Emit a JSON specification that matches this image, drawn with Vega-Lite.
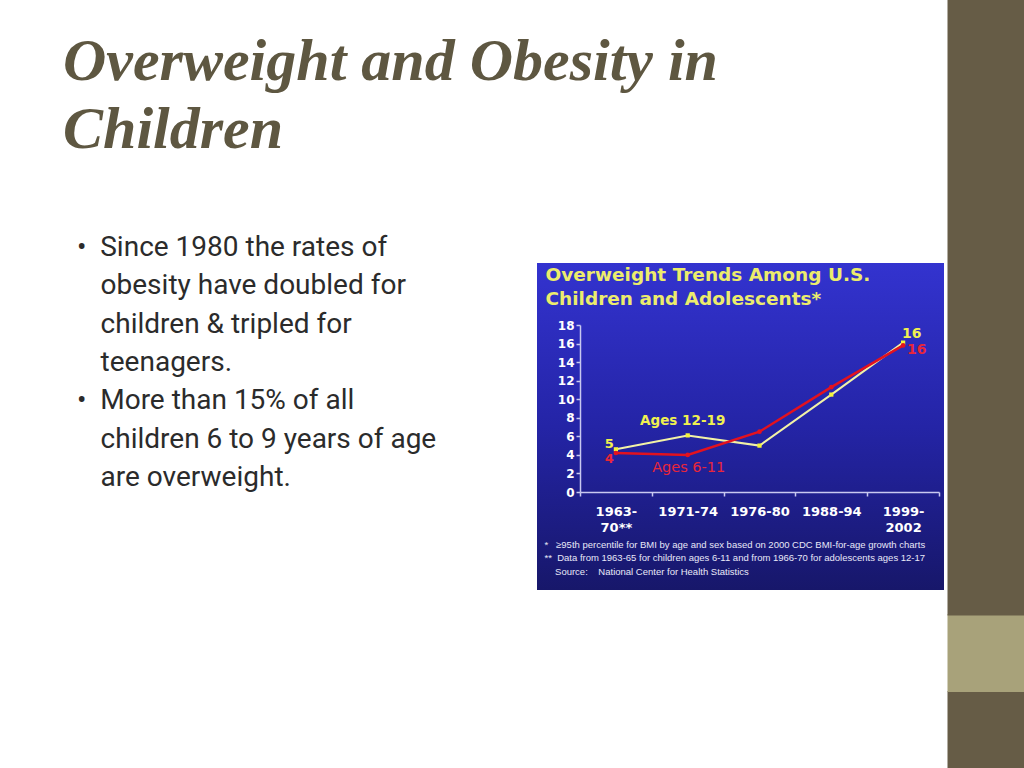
{
  "$schema": "https://vega.github.io/schema/vega-lite/v6.json",
  "width": 407,
  "height": 327,
  "autosize": {"type": "none"},
  "padding": {"left": 537, "top": 263, "right": 80, "bottom": 178},
  "background": "#ffffff",
  "view": {
    "stroke": null,
    "fill": {
      "gradient": "linear", "x1": 0, "y1": 0, "x2": 0, "y2": 1,
      "stops": [
        {"offset": 0, "color": "#3333cf"},
        {"offset": 0.5, "color": "#2424a6"},
        {"offset": 1, "color": "#17176a"}
      ]
    }
  },
  "title": {
    "text": ["Overweight and Obesity in", "Children"],
    "subtitle": [
      "\u200b\u00a0\u00a0•\u00a0\u00a0Since 1980 the rates of",
      "\u200b\u00a0\u00a0\u00a0\u00a0\u00a0\u200aobesity have doubled for",
      "\u200b\u00a0\u00a0\u00a0\u00a0\u00a0\u200achildren & tripled for",
      "\u200b\u00a0\u00a0\u00a0\u00a0\u00a0\u200ateenagers.",
      "\u200b\u00a0\u00a0•\u00a0\u00a0More than 15% of all",
      "\u200b\u00a0\u00a0\u00a0\u00a0\u00a0\u200achildren 6 to 9 years of age",
      "\u200b\u00a0\u00a0\u00a0\u00a0\u00a0\u200aare overweight."
    ],
    "anchor": "start",
    "frame": "group",
    "orient": "top",
    "dx": -474,
    "dy": 494,
    "offset": 0,
    "font": "Liberation Serif",
    "fontSize": 60,
    "fontStyle": "italic",
    "fontWeight": "bold",
    "color": "#5e5741",
    "lineHeight": 68,
    "subtitleFont": "Roboto",
    "subtitleFontSize": 28,
    "subtitleColor": "#2b2b2b",
    "subtitleLineHeight": 38.3,
    "subtitlePadding": 73
  },
  "data": {
    "values": [
      {"period": "1963-70", "group": "Ages 12-19", "pct": 4.6},
      {"period": "1971-74", "group": "Ages 12-19", "pct": 6.1},
      {"period": "1976-80", "group": "Ages 12-19", "pct": 5.0},
      {"period": "1988-94", "group": "Ages 12-19", "pct": 10.5},
      {"period": "1999-2002", "group": "Ages 12-19", "pct": 16.1},
      {"period": "1963-70", "group": "Ages 6-11", "pct": 4.2},
      {"period": "1971-74", "group": "Ages 6-11", "pct": 4.0},
      {"period": "1976-80", "group": "Ages 6-11", "pct": 6.5},
      {"period": "1988-94", "group": "Ages 6-11", "pct": 11.3},
      {"period": "1999-2002", "group": "Ages 6-11", "pct": 15.8}
    ]
  },
  "resolve": {
    "axis": {"x": "independent", "y": "independent"},
    "scale": {"y": "independent"}
  },
  "layer": [
    {
      "transform": [{"filter": "datum.group === 'Ages 12-19'"}],
      "mark": {"type": "line", "color": "#f2f2a6", "strokeWidth": 2,
        "point": {"filled": true, "shape": "square", "size": 18, "color": "#f4f43c"}},
      "encoding": {
        "x": {
          "field": "period", "type": "ordinal",
          "sort": ["1963-70", "1971-74", "1976-80", "1988-94", "1999-2002"],
          "scale": {"type": "band", "range": [43, 402], "paddingInner": 0, "paddingOuter": 0},
          "axis": {
            "orient": "bottom", "offset": -98, "tickBand": "extent",
            "domainColor": "#c8c8f0", "domainWidth": 1.5,
            "tickColor": "#c8c8f0", "tickWidth": 1.5, "tickSize": 4,
            "labelAngle": 0, "labelColor": "#ffffff", "labelFont": "DejaVu Sans",
            "labelFontWeight": "bold", "labelFontSize": 13, "labelPadding": 9,
            "labelLineHeight": 16, "labelOverlap": false, "labelBound": false,
            "labelBaseline": "top",
            "labelExpr": "datum.value === '1963-70' ? ['1963-', '70**'] : datum.value === '1999-2002' ? ['1999-', '2002'] : datum.label",
            "grid": false,
            "title": [
              "*\u00a0\u00a0\u00a0≥95th percentile for BMI by age and sex based on 2000 CDC BMI-for-age growth charts",
              "**\u00a0\u00a0Data from 1963-65 for children ages 6-11 and from 1966-70 for adolescents ages 12-17",
              "\u200b\u00a0\u00a0\u00a0\u00a0Source:\u00a0\u00a0\u00a0\u00a0National Center for Health Statistics"
            ],
            "titleX": 7, "titleY": 55, "titleAlign": "left", "titleBaseline": "alphabetic",
            "titleFont": "Liberation Sans", "titleFontSize": 9.5, "titleFontWeight": "normal",
            "titleColor": "#e8e8f8", "titleLineHeight": 13.7
          }
        },
        "y": {
          "field": "pct", "type": "quantitative",
          "scale": {"domain": [0, 18], "range": [229, 62], "nice": false, "zero": false},
          "axis": {
            "orient": "left", "offset": -43,
            "values": [0, 2, 4, 6, 8, 10, 12, 14, 16, 18],
            "domainColor": "#c8c8f0", "domainWidth": 1.5,
            "tickColor": "#c8c8f0", "tickWidth": 1.5, "tickSize": 4,
            "labelColor": "#ffffff", "labelFont": "DejaVu Sans", "labelFontWeight": "bold",
            "labelFontSize": 12, "labelPadding": 2, "grid": false,
            "title": ["Overweight Trends Among U.S.", "Children and Adolescents*"],
            "titleAngle": 0, "titleAlign": "left", "titleBaseline": "alphabetic",
            "titleX": -35, "titleY": 17,
            "titleFont": "DejaVu Sans", "titleFontSize": 18.5, "titleFontWeight": "bold",
            "titleColor": "#ecec6c", "titleLineHeight": 24
          }
        }
      }
    },
    {
      "transform": [{"filter": "datum.group === 'Ages 6-11'"}],
      "mark": {"type": "line", "color": "#e3121f", "strokeWidth": 2.5,
        "point": {"filled": true, "shape": "circle", "size": 22, "color": "#e3121f"}},
      "encoding": {
        "x": {"field": "period", "type": "ordinal",
          "sort": ["1963-70", "1971-74", "1976-80", "1988-94", "1999-2002"], "axis": null},
        "y": {
          "field": "pct", "type": "quantitative",
          "scale": {"domain": [-29.749, 53.029], "range": [505, -263], "nice": false, "zero": false},
          "axis": {
            "orient": "right", "offset": 3,
            "values": [19.94, -17.299, -25.599],
            "domain": false, "labels": false, "grid": false, "title": null,
            "ticks": true, "tickSize": 77, "tickCap": "butt", "tickRound": false,
            "tickColor": {"condition": {"test": "datum.value > -20 && datum.value < 0", "value": "#a8a27a"}, "value": "#665c46"},
            "tickWidth": {"condition": {"test": "datum.value > 0", "value": 616}, "value": 78}
          }
        }
      }
    },
    {
      "transform": [{"filter": "datum.group === 'Ages 12-19' && datum.period === '1971-74'"}],
      "mark": {"type": "text", "color": "#f0f050", "font": "DejaVu Sans", "fontWeight": "bold",
        "fontSize": 13.5, "baseline": "middle", "align": "center", "dx": -5, "dy": -14},
      "encoding": {
        "x": {"field": "period", "type": "ordinal", "axis": null},
        "y": {"field": "pct", "type": "quantitative", "axis": null,
          "scale": {"domain": [0, 18], "range": [229, 62], "nice": false, "zero": false}},
        "text": {"field": "group"}
      }
    },
    {
      "transform": [{"filter": "datum.group === 'Ages 6-11' && datum.period === '1971-74'"}],
      "mark": {"type": "text", "color": "#e8263a", "font": "DejaVu Sans", "fontWeight": "normal",
        "fontSize": 14.5, "baseline": "middle", "align": "center", "dx": 1, "dy": 13},
      "encoding": {
        "x": {"field": "period", "type": "ordinal", "axis": null},
        "y": {"field": "pct", "type": "quantitative", "axis": null,
          "scale": {"domain": [0, 18], "range": [229, 62], "nice": false, "zero": false}},
        "text": {"field": "group"}
      }
    },
    {
      "transform": [{"filter": "datum.group === 'Ages 12-19' && datum.period === '1963-70'"}],
      "mark": {"type": "text", "color": "#f0f050", "font": "DejaVu Sans", "fontWeight": "bold",
        "fontSize": 13, "baseline": "middle", "align": "right", "dx": -2, "dy": -5},
      "encoding": {
        "x": {"field": "period", "type": "ordinal", "axis": null},
        "y": {"field": "pct", "type": "quantitative", "axis": null,
          "scale": {"domain": [0, 18], "range": [229, 62], "nice": false, "zero": false}},
        "text": {"field": "pct", "type": "quantitative", "format": ".0f"}
      }
    },
    {
      "transform": [{"filter": "datum.group === 'Ages 6-11' && datum.period === '1963-70'"}],
      "mark": {"type": "text", "color": "#e8263a", "font": "DejaVu Sans", "fontWeight": "bold",
        "fontSize": 13, "baseline": "middle", "align": "right", "dx": -2, "dy": 6},
      "encoding": {
        "x": {"field": "period", "type": "ordinal", "axis": null},
        "y": {"field": "pct", "type": "quantitative", "axis": null,
          "scale": {"domain": [0, 18], "range": [229, 62], "nice": false, "zero": false}},
        "text": {"field": "pct", "type": "quantitative", "format": ".0f"}
      }
    },
    {
      "transform": [{"filter": "datum.group === 'Ages 12-19' && datum.period === '1999-2002'"}],
      "mark": {"type": "text", "color": "#f0f050", "font": "DejaVu Sans", "fontWeight": "bold",
        "fontSize": 14, "baseline": "middle", "align": "left", "dx": -1, "dy": -9},
      "encoding": {
        "x": {"field": "period", "type": "ordinal", "axis": null},
        "y": {"field": "pct", "type": "quantitative", "axis": null,
          "scale": {"domain": [0, 18], "range": [229, 62], "nice": false, "zero": false}},
        "text": {"field": "pct", "type": "quantitative", "format": ".0f"}
      }
    },
    {
      "transform": [{"filter": "datum.group === 'Ages 6-11' && datum.period === '1999-2002'"}],
      "mark": {"type": "text", "color": "#e8263a", "font": "DejaVu Sans", "fontWeight": "bold",
        "fontSize": 14, "baseline": "middle", "align": "left", "dx": 4, "dy": 5},
      "encoding": {
        "x": {"field": "period", "type": "ordinal", "axis": null},
        "y": {"field": "pct", "type": "quantitative", "axis": null,
          "scale": {"domain": [0, 18], "range": [229, 62], "nice": false, "zero": false}},
        "text": {"field": "pct", "type": "quantitative", "format": ".0f"}
      }
    }
  ]
}
